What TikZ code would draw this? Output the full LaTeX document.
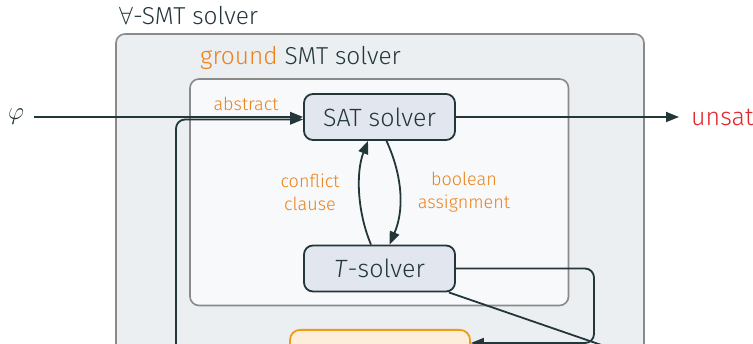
\documentclass[tikz,border=0pt]{standalone}
\usepackage{fontspec}
\setmainfont{Fira Sans Light}
\setsansfont{Fira Sans Light}
\usetikzlibrary{arrows.meta,calc}
\definecolor{dark}{HTML}{23373B}
\definecolor{boxgrey}{HTML}{8A8A8A}
\definecolor{outerfill}{HTML}{EBEFF2}
\definecolor{innerfill}{HTML}{F7F9FA}
\definecolor{nodefill}{HTML}{E2E7EF}
\definecolor{alertorange}{HTML}{EB811B}
\definecolor{instborder}{HTML}{F29A1A}
\definecolor{instfill}{HTML}{FDEEDB}
\definecolor{unsatred}{HTML}{E3242B}
\tikzset{
  container/.style={draw=boxgrey, line width=1.6pt, rounded corners=9pt},
  solverbox/.style={draw=dark, fill=nodefill, line width=1.8pt, rounded corners=9pt,
    minimum width=151pt, minimum height=46pt, inner sep=0pt,
    font=\sffamily\fontsize{25}{30}\selectfont, text=dark},
  instbox/.style={draw=instborder, fill=instfill, line width=1.8pt, rounded corners=10pt,
    minimum width=180pt, inner xsep=0pt, inner ysep=15.5pt, text height=18pt, text depth=20pt,
    font=\sffamily\fontsize{25}{30}\selectfont, text=alertorange},
  lbl/.style={font=\sffamily\fontsize{18}{23}\selectfont, text=alertorange, align=center},
  title/.style={font=\sffamily\fontsize{24.5}{30}\selectfont, text=dark, anchor=base west, inner sep=0pt},
  conn/.style={draw=dark, line width=1.8pt},
  arr/.style={conn, -{Triangle[length=13pt,width=10pt]}},
}
\begin{document}
\begin{tikzpicture}[x=1pt,y=-1pt,font=\sffamily]
\useasboundingbox (0,0) rectangle (753,344);
\clip (0,0) rectangle (753,344);
% containers
\draw[container, fill=outerfill] (116,34) rectangle (644,430);
\node[title] (outerlbl) at (119,25) {$\forall$-SMT solver};
\draw[container, fill=innerfill] (190,79) rectangle (568.5,305.5);
\node[title] (innerlbl) at (200,64.5) {\textcolor{alertorange}{ground} SMT solver};
% nodes
\node[solverbox] (sat) at (379.5,117) {SAT solver};
\node[solverbox] (tsol) at (379.5,268.5) {\textit{T}-solver};
\node[instbox, anchor=north] (inst) at (380,329) {instantiation};
\node[font=\fontsize{25}{30}\selectfont, text=dark, inner xsep=10pt] (phi) at (16,117) {$\varphi$};
\node[font=\sffamily\fontsize{25}{30}\selectfont, text=unsatred, anchor=west, inner xsep=12pt] (unsat) at (679,117) {unsat};
\coordinate (off) at (700,379);
% labels
\node[lbl] (abs) at (246,104) {abstract};
\node[lbl] (confl) at (310,192) {conflict\\clause};
\node[lbl] (boolass) at (464,192) {boolean\\assignment};
% connectors
\draw[arr] (phi) -- (sat);
\draw[arr, rounded corners=9pt] (inst.west) -| (176,119.5) -- ($(sat.west)+(0,2.5)$);
\draw[arr] (sat) -- (unsat);
\draw[arr] ($(tsol.north)+(-8.5,0)$) .. controls ($(tsol.north)+(-22,-32)$) and ($(sat.south)+(-24,32)$) .. ($(sat.south)+(-11.5,0)$);
\draw[arr] ($(sat.south)+(7,0)$) .. controls ($(sat.south)+(23,35)$) and ($(tsol.north)+(25,-35)$) .. ($(tsol.north)+(10,0)$);
\draw[arr, rounded corners=9pt] (tsol.east) -| (594,343) -- ($(inst.north east)+(0,14)$);
\draw[conn] (tsol) -- (off);
\end{tikzpicture}
\end{document}
